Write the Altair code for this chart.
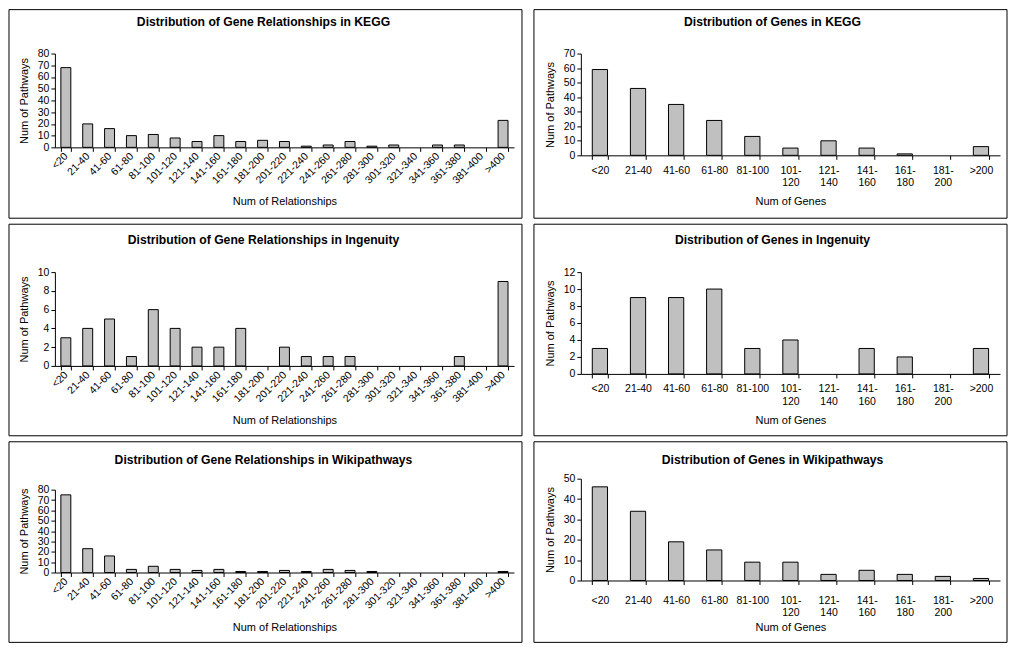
import altair as alt
import pandas as pd

FONT = "Arial, 'Liberation Sans', sans-serif"

rel_categories = ["<20", "21-40", "41-60", "61-80", "81-100", "101-120", "121-140",
                  "141-160", "161-180", "181-200", "201-220", "221-240", "241-260",
                  "261-280", "281-300", "301-320", "321-340", "341-360", "361-380",
                  "381-400", ">400"]
gene_categories = ["<20", "21-40", "41-60", "61-80", "81-100", "101-120", "121-140",
                   "141-160", "161-180", "181-200", ">200"]

kegg_rel = [68, 20, 16, 10, 11, 8, 5, 10, 5, 6, 5, 1, 2, 5, 1, 2, 0, 2, 2, 0, 23]
ingenuity_rel = [3, 4, 5, 1, 6, 4, 2, 2, 4, 0, 2, 1, 1, 1, 0, 0, 0, 0, 1, 0, 9]
wiki_rel = [75, 23, 16, 3, 6, 3, 2, 3, 1, 1, 2, 1, 3, 2, 1, 0, 0, 0, 0, 0, 1]

kegg_genes = [59, 46, 35, 24, 13, 5, 10, 5, 1, 0, 6]
ingenuity_genes = [3, 9, 9, 10, 3, 4, 0, 3, 2, 0, 3]
wiki_genes = [46, 34, 19, 15, 9, 9, 3, 5, 3, 2, 1]

titles = [
    "Distribution of Gene Relationships in KEGG",
    "Distribution of Genes in KEGG",
    "Distribution of Gene Relationships in Ingenuity",
    "Distribution of Genes in Ingenuity",
    "Distribution of Gene Relationships in Wikipathways",
    "Distribution of Genes in Wikipathways",
]
y_title = "Num of Pathways"
x_title_rel = "Num of Relationships"
x_title_gene = "Num of Genes"


def panel(title, cats, vals, ymax, ystep, xtitle, genes, w, h, frame, tpos,
          xtitle_y, label_pad, ytop=0):
    df = pd.DataFrame({"cat": cats, "n": vals})
    one = pd.DataFrame({"k": [0]})
    fl, fr, ft, fb = frame  # left/right/top relative to view origin, bottom below view bottom
    box = alt.Chart(one).mark_rect(filled=False, stroke="black", strokeWidth=1).encode(
        x=alt.value(fl), x2=alt.value(fr), y=alt.value(ft), y2=alt.value(h + fb)
    )
    ttl = alt.Chart(one).mark_text(
        font=FONT, fontSize=12.2, fontWeight="bold", color="black",
        align="center", baseline="middle"
    ).encode(x=alt.value(tpos[0]), y=alt.value(tpos[1]), text=alt.value(title))

    if genes:
        xaxis = alt.Axis(
            title=xtitle, labelAngle=0, labelAlign="center", labelBaseline="top",
            labelPadding=label_pad, labelLineHeight=12.5, labelOverlap=False,
            labelExpr="length(datum.label) > 6 ? [slice(datum.label, 0, 4), slice(datum.label, 4)] : datum.label",
            tickBand="extent", titleY=xtitle_y, titleBaseline="middle",
        )
        xscale = alt.Scale(domain=cats, paddingInner=0.6, paddingOuter=0.3)
    else:
        xaxis = alt.Axis(
            title=xtitle, labelAngle=315, labelAlign="right", labelBaseline="middle",
            labelPadding=label_pad, labelOverlap=False,
            tickBand="extent", titleY=xtitle_y, titleBaseline="middle",
        )
        xscale = alt.Scale(domain=cats, paddingInner=0.545, paddingOuter=0.2727)

    yaxis = alt.Axis(
        title=y_title, values=list(range(0, ymax + 1, ystep)), labelPadding=2,
        labelOverlap=False,
        titleX=-30, titleY=(h + ytop) / 2, titleAngle=270, titleBaseline="middle",
        titleAlign="center",
    )
    bars = alt.Chart(df).transform_filter("datum.n > 0").mark_bar(
        fill="#C0C0C0", stroke="black", strokeWidth=1
    ).encode(
        x=alt.X("cat:N", sort=cats, scale=xscale, axis=xaxis),
        y=alt.Y("n:Q", scale=alt.Scale(domain=[0, ymax], nice=False, range=[h, ytop]),
                axis=yaxis),
    )
    return alt.layer(box, ttl, bars).properties(width=w, height=h)


p1 = panel(titles[0], rel_categories, kegg_rel, 80, 10, x_title_rel, False,
           460, 94, (-46, 468, -44, 71), (209, -32), 54, 3)
p2 = panel(titles[1], gene_categories, kegg_genes, 70, 10, x_title_gene, True,
           420, 102, (-47, 427, -44, 63), (192, -32), 46, 6)
p3 = panel(titles[2], rel_categories, ingenuity_rel, 10, 2, x_title_rel, False,
           460, 94, (-46, 468, -48, 70), (209, -32), 55, 3)
p4 = panel(titles[3], gene_categories, ingenuity_genes, 12, 2, x_title_gene, True,
           420, 102, (-47, 427, -48, 62), (192, -32), 47, 6)
p5 = panel(titles[4], rel_categories, wiki_rel, 80, 10, x_title_rel, False,
           460, 94, (-46, 468, -37, 70), (209, -19), 55, 3, ytop=11)
p6 = panel(titles[5], gene_categories, wiki_genes, 50, 10, x_title_gene, True,
           420, 102, (-47, 427, -37, 62), (192, -19), 47, 11)

chart = alt.vconcat(
    alt.hconcat(p1, p2, spacing=10),
    alt.hconcat(p3, p4, spacing=10),
    alt.hconcat(p5, p6, spacing=10),
    spacing=4,
).properties(padding=0).configure_view(strokeWidth=0).configure_axis(
    labelFont=FONT, titleFont=FONT, labelFontSize=10.5, titleFontSize=11,
    labelColor="black", titleColor="black", titleFontWeight="normal",
    domainColor="black", tickColor="black", tickSize=4, grid=False,
    domainWidth=1, tickWidth=1,
)

chart.save("out.html", embed_options={"renderer": "svg", "actions": False})
